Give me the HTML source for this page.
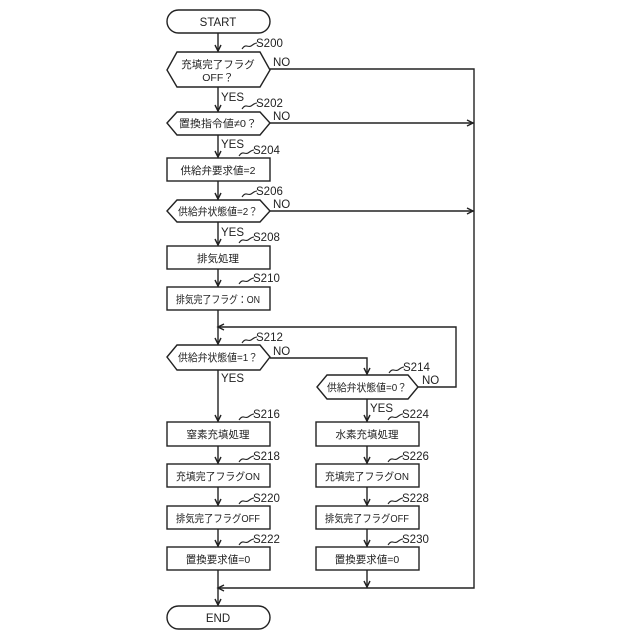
<!DOCTYPE html>
<html><head><meta charset="utf-8"><style>
html,body{margin:0;padding:0;background:#fff;}
svg{display:block;}
text{font-family:"Liberation Sans","Noto Sans CJK JP",sans-serif;fill:#222;}
.j{font-size:10.5px;}
.l{font-size:11.5px;}
</style></head><body>
<svg width="640" height="640" viewBox="0 0 640 640" xmlns="http://www.w3.org/2000/svg">
<g fill="none" stroke="#222" stroke-width="1.4">
<rect x="167" y="10" width="103" height="23" rx="11.5"/>
<rect x="167" y="606" width="103" height="23" rx="11.5"/>
<polygon points="167,70 177,52 260,52 270,70 260,87 177,87"/>
<polygon points="167,123 177,112 260,112 270,123 260,135 177,135"/>
<polygon points="167,211 177,200 260,200 270,211 260,222 177,222"/>
<polygon points="167,357 177,345 260,345 270,357 260,370 177,370"/>
<polygon points="317,387 327,375 408,375 418,387 408,399 327,399"/>
<rect x="167" y="158" width="103" height="23"/>
<rect x="167" y="246" width="103" height="23"/>
<rect x="167" y="287" width="103" height="23"/>
<rect x="167" y="422" width="103" height="24"/>
<rect x="167" y="464" width="103" height="23"/>
<rect x="167" y="506" width="103" height="23"/>
<rect x="167" y="547" width="103" height="23"/>
<rect x="316" y="422" width="103" height="24"/>
<rect x="316" y="464" width="103" height="23"/>
<rect x="316" y="506" width="103" height="23"/>
<rect x="316" y="547" width="103" height="23"/>
<path d="M218,33V52 M218,87V112 M218,135V158 M218,181V200 M218,222V246 M218,269V287 M218,310V345 M218,370V422 M218,446V464 M218,487V506 M218,529V547 M218,570V606"/>
<path d="M367,399V422 M367,446V464 M367,487V506 M367,529V547 M367,570V588"/>
<path d="M270,69H474V588H218"/>
<path d="M270,123H474 M270,211H474"/>
<path d="M270,358H367V375"/>
<path d="M418,387H456V327H218"/>
<path d="M215,45L218,51L221,45 M215,105L218,111L221,105 M215,151L218,157L221,151 M215,193L218,199L221,193 M215,239L218,245L221,239 M215,280L218,286L221,280 M215,338L218,344L221,338 M215,415L218,421L221,415 M215,457L218,463L221,457 M215,499L218,505L221,499 M215,540L218,546L221,540 M215,599L218,605L221,599"/>
<path d="M364,368L367,374L370,368 M364,415L367,421L370,415 M364,457L367,463L370,457 M364,499L367,505L370,499 M364,540L367,546L370,540 M364,581L367,587L370,581"/>
<path d="M467,120L473,123L467,126 M467,208L473,211L467,214 M224,324L218,327L224,330 M224,585L218,588L224,591"/>
<g stroke-width="1.1">
<path d="M242,49c4,-6 6,-1 9,-3s4,-3 6,-3"/>
<path d="M242,109c4,-6 6,-1 9,-3s4,-3 6,-3"/>
<path d="M239,156c4,-6 6,-1 9,-3s4,-3 6,-3"/>
<path d="M242,197c4,-6 6,-1 9,-3s4,-3 6,-3"/>
<path d="M239,243c4,-6 6,-1 9,-3s4,-3 6,-3"/>
<path d="M239,284c4,-6 6,-1 9,-3s4,-3 6,-3"/>
<path d="M242,343c4,-6 6,-1 9,-3s4,-3 6,-3"/>
<path d="M239,420c4,-6 6,-1 9,-3s4,-3 6,-3"/>
<path d="M239,462c4,-6 6,-1 9,-3s4,-3 6,-3"/>
<path d="M239,504c4,-6 6,-1 9,-3s4,-3 6,-3"/>
<path d="M239,545c4,-6 6,-1 9,-3s4,-3 6,-3"/>
<path d="M389,373c4,-6 6,-1 9,-3s4,-3 6,-3"/>
<path d="M388,420c4,-6 6,-1 9,-3s4,-3 6,-3"/>
<path d="M388,462c4,-6 6,-1 9,-3s4,-3 6,-3"/>
<path d="M388,504c4,-6 6,-1 9,-3s4,-3 6,-3"/>
<path d="M388,545c4,-6 6,-1 9,-3s4,-3 6,-3"/>
</g>
</g>
<g class="l">
<text x="218" y="26" text-anchor="middle">START</text>
<text x="218" y="622" text-anchor="middle">END</text>
<text x="256" y="47">S200</text>
<text x="256" y="107">S202</text>
<text x="253" y="154">S204</text>
<text x="256" y="195">S206</text>
<text x="253" y="241">S208</text>
<text x="253" y="282">S210</text>
<text x="256" y="341">S212</text>
<text x="403" y="371">S214</text>
<text x="253" y="418">S216</text>
<text x="253" y="460">S218</text>
<text x="253" y="502">S220</text>
<text x="253" y="543">S222</text>
<text x="402" y="418">S224</text>
<text x="402" y="460">S226</text>
<text x="402" y="502">S228</text>
<text x="402" y="543">S230</text>
<text x="273" y="66">NO</text>
<text x="273" y="120">NO</text>
<text x="273" y="208">NO</text>
<text x="273" y="355">NO</text>
<text x="422" y="384">NO</text>
<text x="221" y="101">YES</text>
<text x="221" y="148">YES</text>
<text x="221" y="236">YES</text>
<text x="221" y="382">YES</text>
<text x="370" y="412">YES</text>
</g>
<g class="j" text-anchor="middle">
<text x="218" y="68">充填完了フラグ</text>
<text x="218" y="81">OFF？</text>
<text x="218" y="127" textLength="78" lengthAdjust="spacingAndGlyphs">置換指令値≠0？</text>
<text x="218" y="174">供給弁要求値=2</text>
<text x="218" y="215" textLength="80" lengthAdjust="spacingAndGlyphs">供給弁状態値=2？</text>
<text x="218" y="262">排気処理</text>
<text x="218" y="303" textLength="84" lengthAdjust="spacingAndGlyphs">排気完了フラグ：ON</text>
<text x="218" y="361" textLength="80" lengthAdjust="spacingAndGlyphs">供給弁状態値=1？</text>
<text x="367" y="391" textLength="80" lengthAdjust="spacingAndGlyphs">供給弁状態値=0？</text>
<text x="218" y="438">窒素充填処理</text>
<text x="218" y="480" textLength="84" lengthAdjust="spacingAndGlyphs">充填完了フラグON</text>
<text x="218" y="522" textLength="84" lengthAdjust="spacingAndGlyphs">排気完了フラグOFF</text>
<text x="218" y="563">置換要求値=0</text>
<text x="367" y="438">水素充填処理</text>
<text x="367" y="480" textLength="84" lengthAdjust="spacingAndGlyphs">充填完了フラグON</text>
<text x="367" y="522" textLength="84" lengthAdjust="spacingAndGlyphs">排気完了フラグOFF</text>
<text x="367" y="563">置換要求値=0</text>
</g>
</svg>
</body></html>
